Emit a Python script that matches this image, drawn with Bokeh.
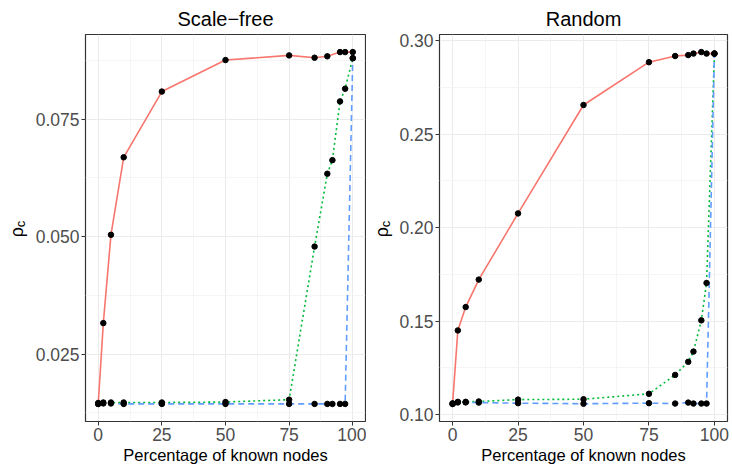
import math
from bokeh.plotting import figure
from bokeh.layouts import row
from bokeh.models import Range1d, Label, FixedTicker
from bokeh.embed import file_html
from bokeh.resources import INLINE

# ---------------- data ----------------
pct_sf_red = [0, 2, 5, 10, 25, 50, 75, 85, 90, 95, 97, 100]
sf_red = [0.0144, 0.0316, 0.0504, 0.0669, 0.0809, 0.0876, 0.0886, 0.0881, 0.0884, 0.0893, 0.0893, 0.0893]
pct_all = [0, 2, 5, 10, 25, 50, 75, 85, 90, 92, 95, 97, 100]
sf_green = [0.0146, 0.0147, 0.0147, 0.0147, 0.0147, 0.0148, 0.0153, 0.0479, 0.0634, 0.0663, 0.0788, 0.0815, 0.0880]
sf_blue = [0.0144, 0.0145, 0.0145, 0.0144, 0.0144, 0.0144, 0.0144, 0.0144, 0.0144, 0.0144, 0.0144, 0.0144, 0.0880]

rd_red = [0.1057, 0.1450, 0.1575, 0.1722, 0.2076, 0.2656, 0.2885, 0.2918, 0.2923, 0.2931, 0.2939, 0.2931, 0.2931]
rd_green = [0.1060, 0.1068, 0.1068, 0.1070, 0.1080, 0.1082, 0.1111, 0.1212, 0.1282, 0.1337, 0.1504, 0.1704, 0.2931]
rd_blue = [0.1057, 0.1065, 0.1065, 0.1064, 0.1061, 0.1058, 0.1061, 0.1059, 0.1064, 0.1059, 0.1059, 0.1059, 0.2931]

x_ticks = [0, 25, 50, 75, 100]
x_minor = [12.5, 37.5, 62.5, 87.5]
sf_ticks = [0.025, 0.050, 0.075]
sf_minor = [0.0125, 0.0375, 0.0625, 0.0875]
rd_ticks = [0.10, 0.15, 0.20, 0.25, 0.30]
rd_minor = [0.125, 0.175, 0.225, 0.275]

titles = ["Scale\u2212free", "Random"]
x_label = "Percentage of known nodes"
y_label_main = "\u03c1"
y_label_sub = "c"

RED, GREEN, BLUE = "#F8766D", "#00BA38", "#619CFF"
FONT = "Liberation Sans"
H = 470


def expand(vals, f=0.05):
    lo, hi = min(vals), max(vals)
    d = (hi - lo) * f
    return lo - d, hi + d


def make_panel(title, series, yt, ymin, fmt, width, bl, br):
    allx = [x for s in series for x in s[0]]
    ally = [y for s in series for y in s[1]]
    x0, x1 = expand(allx)
    y0, y1 = expand(ally)
    p = figure(width=width, height=H, output_backend="svg", toolbar_location=None,
               x_range=Range1d(x0, x1), y_range=Range1d(y0, y1),
               min_border_left=bl, min_border_right=br, min_border_top=33, min_border_bottom=49)
    p.background_fill_color = "white"
    p.border_fill_color = "white"
    p.outline_line_color = "#333333"
    p.outline_line_width = 1.2
    p.title.text = title
    p.title.align = "center"
    p.title.text_font = FONT
    p.title.text_font_size = "20px"
    p.title.text_font_style = "normal"
    p.title.text_color = "black"

    p.xaxis.ticker = FixedTicker(ticks=x_ticks, minor_ticks=x_minor)
    p.yaxis.ticker = FixedTicker(ticks=yt, minor_ticks=ymin)
    p.yaxis.major_label_overrides = {t: fmt.format(t) for t in yt}
    for ax in (p.xaxis, p.yaxis):
        ax.axis_line_color = None
        ax.major_tick_line_color = "#333333"
        ax.major_tick_in = 0
        ax.major_tick_out = 4
        ax.minor_tick_line_color = None
        ax.major_label_text_font = FONT
        ax.major_label_text_font_size = "17.5px"
        ax.major_label_text_color = "#4D4D4D"
        ax.major_label_standoff = 2
    p.xaxis.axis_label = x_label
    p.xaxis.axis_label_text_font = FONT
    p.xaxis.axis_label_text_font_size = "16.5px"
    p.xaxis.axis_label_text_font_style = "normal"
    p.xaxis.axis_label_text_color = "black"
    p.xaxis.axis_label_standoff = 2

    for g in (p.xgrid, p.ygrid):
        g.grid_line_color = "#EBEBEB"
        g.grid_line_width = 1.1
        g.minor_grid_line_color = "#F3F3F3"
        g.minor_grid_line_width = 0.8

    styles = [(RED, None), (GREEN, "2 3"), (BLUE, "6 4")]
    for (xs, ys), (col, dash) in zip(series, styles):
        if dash is None:
            p.line(xs, ys, line_color=col, line_width=1.6)
        else:
            p.line(xs, ys, line_color=col, line_width=1.6, line_dash=dash)
    for xs, ys in series:
        p.scatter(xs, ys, size=5.5, fill_color="black", line_color="black")
    return p


def make_ylabel(width, x_main, x_sub):
    # narrow strip that carries the rotated y-axis title "rho_c"
    q = figure(width=width, height=H, output_backend="svg", toolbar_location=None,
               x_range=Range1d(0, width), y_range=Range1d(0, H),
               x_axis_location=None, y_axis_location=None,
               min_border_left=0, min_border_right=0, min_border_top=0, min_border_bottom=0)
    q.outline_line_color = None
    q.grid.visible = False
    q.background_fill_color = "white"
    q.border_fill_color = "white"
    q.add_layout(Label(x=x_main, y=H - 240, text=y_label_main, angle=math.pi / 2,
                       text_align="center", text_baseline="middle",
                       text_font=FONT, text_font_size="18px", text_color="black"))
    q.add_layout(Label(x=x_sub, y=H - 230, text=y_label_sub, angle=math.pi / 2,
                       text_align="center", text_baseline="middle",
                       text_font=FONT, text_font_size="13px", text_color="black"))
    return q


lab1 = make_ylabel(30, 16, 20)
p1 = make_panel(titles[0],
                [(pct_sf_red, sf_red), (pct_all, sf_green), (pct_all, sf_blue)],
                sf_ticks, sf_minor, "{:.3f}", 336, 55, 1)
lab2 = make_ylabel(30, 15, 19)
p2 = make_panel(titles[1],
                [(pct_all, rd_red), (pct_all, rd_green), (pct_all, rd_blue)],
                rd_ticks, rd_minor, "{:.2f}", 336, 42, 5)

layout = row(lab1, p1, lab2, p2)
open("out.html", "w").write(file_html(layout, INLINE))
